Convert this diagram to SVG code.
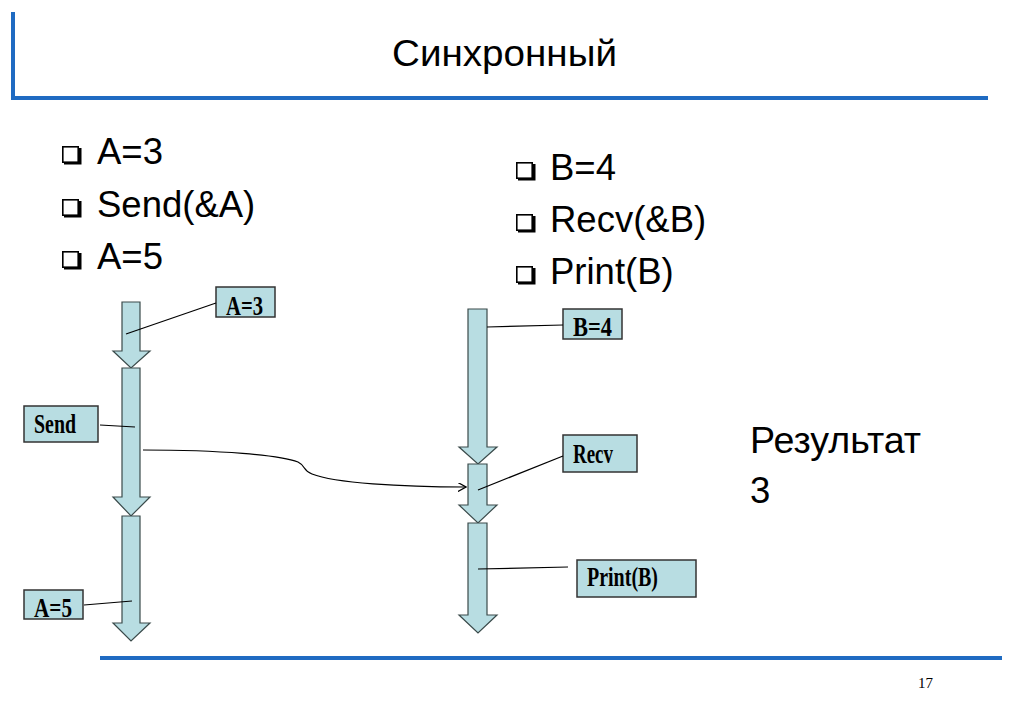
<svg xmlns="http://www.w3.org/2000/svg" width="1023" height="708" viewBox="0 0 1023 708">
<defs>
<style>
.frame{stroke:#1f6bc2;stroke-width:4;fill:none}
.big{font-family:"Liberation Sans",Arial,sans-serif;font-size:36.5px;fill:#000}
.blk{fill:#b8dde2;stroke:#3a4a4a;stroke-width:1.2}
.lbl{fill:#b8dde2;stroke:#333;stroke-width:1.5}
.lt{font-family:"Liberation Serif","Times New Roman",serif;font-weight:bold;font-size:28px;fill:#000}
.lead{stroke:#000;stroke-width:1.2;fill:none}
.bx{fill:#fff;stroke:#000;stroke-width:1.6}
.sh{fill:#000}
</style>
<marker id="open" viewBox="0 0 10 10" refX="9" refY="5" markerWidth="9" markerHeight="9" markerUnits="userSpaceOnUse" orient="auto">
<path d="M0,0 L9,5 L0,10" fill="none" stroke="#000" stroke-width="1.4"/>
</marker>
<g id="bullet">
<path class="sh" d="M2,16 H17 V2 H19.5 V18.5 H2 Z"/>
<rect class="bx" x="0.8" y="0.8" width="15.4" height="15.4"/>
</g>
</defs>
<rect width="1023" height="708" fill="#fff"/>

<g id="frame">
<path class="frame" d="M13,12 V98 H988"/>
<path class="frame" d="M100,658 H1002"/>
</g>

<g id="title">
<text class="big" x="392" y="66" font-size="37" textLength="225" lengthAdjust="spacingAndGlyphs">Синхронный</text>
</g>

<g id="left-list">
<use href="#bullet" x="62" y="146"/>
<text class="big" x="97" y="164">A=3</text>
<use href="#bullet" x="62" y="199"/>
<text class="big" x="97" y="217">Send(&amp;A)</text>
<use href="#bullet" x="62" y="251"/>
<text class="big" x="97" y="269">A=5</text>
</g>

<g id="right-list">
<use href="#bullet" x="516" y="162"/>
<text class="big" x="550" y="180">B=4</text>
<use href="#bullet" x="516" y="214"/>
<text class="big" x="550" y="232">Recv(&amp;B)</text>
<use href="#bullet" x="516" y="266"/>
<text class="big" x="550" y="284">Print(B)</text>
</g>

<g id="result">
<text class="big" x="750" y="453" textLength="171" lengthAdjust="spacingAndGlyphs">Результат</text>
<text class="big" x="750" y="503">3</text>
</g>

<g id="page-number">
<text x="918" y="688" font-family="Liberation Serif,serif" font-size="15" fill="#000">17</text>
</g>

<g id="left-step1">
<path class="blk" d="M122,302 H140 V351 H150 L131,368 L113,351 H122 Z"/>
</g>
<g id="left-step2">
<path class="blk" d="M122,368 H140 V497 H150 L131,516 L113,497 H122 Z"/>
</g>
<g id="left-step3">
<path class="blk" d="M122,516 H140 V623 H150 L131,641 L113,623 H122 Z"/>
</g>
<g id="right-step1">
<path class="blk" d="M468,309 H487 V447 H497 L478,464 L459,447 H468 Z"/>
</g>
<g id="right-step2">
<path class="blk" d="M468,464 H487 V505 H497 L478,523 L459,505 H468 Z"/>
</g>
<g id="right-step3">
<path class="blk" d="M468,523 H487 V615 H497 L478,633 L459,615 H468 Z"/>
</g>

<g id="label-a3">
<rect class="lbl" x="216" y="287" width="59" height="30"/>
<text class="lt" x="226" y="315" textLength="37" lengthAdjust="spacingAndGlyphs">A=3</text>
</g>
<g id="label-send">
<rect class="lbl" x="24" y="406" width="74" height="36"/>
<text class="lt" x="34" y="433" textLength="42" lengthAdjust="spacingAndGlyphs">Send</text>
</g>
<g id="label-a5">
<rect class="lbl" x="24" y="590" width="59" height="29"/>
<text class="lt" x="34" y="617" textLength="38" lengthAdjust="spacingAndGlyphs">A=5</text>
</g>
<g id="label-b4">
<rect class="lbl" x="563" y="309" width="59" height="30"/>
<text class="lt" x="573" y="336" textLength="39" lengthAdjust="spacingAndGlyphs">B=4</text>
</g>
<g id="label-recv">
<rect class="lbl" x="563" y="435" width="74" height="37"/>
<text class="lt" x="573" y="463" textLength="40" lengthAdjust="spacingAndGlyphs">Recv</text>
</g>
<g id="label-print">
<rect class="lbl" x="577" y="560" width="119" height="37"/>
<text class="lt" x="587" y="586" textLength="71" lengthAdjust="spacingAndGlyphs">Print(B)</text>
</g>

<g id="connectors">
<path class="lead" d="M216,303 L126,334"/>
<path class="lead" d="M100,425 L135,427"/>
<path class="lead" d="M84,605 L132,601"/>
<path class="lead" d="M487,327 L563,325"/>
<path class="lead" d="M563,456 L478,490"/>
<path class="lead" d="M568,567 L478,569"/>
<path class="lead" marker-end="url(#open)" d="M143,450 C220,450 280,455 298,462 C306,466 302,470 312,474 C335,483 400,487 466,487"/>
</g>
</svg>
